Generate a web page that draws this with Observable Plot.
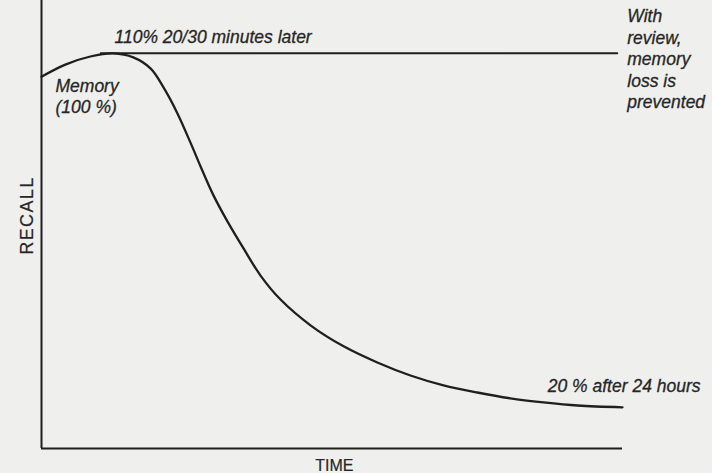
<!DOCTYPE html>
<html>
<head>
<meta charset="utf-8">
<script src="https://cdn.jsdelivr.net/npm/d3@7"></script>
<script src="https://cdn.jsdelivr.net/npm/@observablehq/plot@0.6"></script>
<style>
  html, body { margin: 0; padding: 0; background: #efefee; }
  #chart svg { display: block; background: #efefee; }
</style>
</head>
<body>
<div id="chart"></div>
<script>
// Forgetting curve (schematic units: time 0–100, recall 0–100)
const time   = [0, 4.1, 8.4, 12.4, 15.8, 18.8, 21.0, 23.4, 25.7, 27.4, 29.6, 32.0, 34.8, 37.7, 41.1, 46.3, 52.0, 57.8, 63.5, 69.2, 75.0, 80.7, 86.4, 92.3, 100];
const recall = [83.0, 85.7, 87.5, 88.2, 87.3, 84.8, 80.6, 74.8, 68.1, 62.9, 56.5, 50.7, 44.6, 38.6, 33.3, 27.5, 22.8, 19.2, 16.3, 14.1, 12.5, 11.2, 10.3, 9.6, 9.2];

// Review line (memory kept at peak)
const reviewTime   = [10.2, 99.1];
const reviewRecall = [88.2, 88.2];

// Texts
const peakLabel   = "110% 20/30 minutes later";
const startLabel  = "Memory\n(100 %)";
const reviewLabel = "With\nreview,\nmemory\nloss is\nprevented";
const endLabel    = "20 % after 24 hours";
const xLabel = "TIME";
const yLabel = "RECALL";

const curve = time.map((t, i) => ({time: t, recall: recall[i]}));
const review = reviewTime.map((t, i) => ({time: t, recall: reviewRecall[i]}));
const peakIdx = recall.indexOf(d3.max(recall));
const last = curve.length - 1;

const ink = "#1f1f1f";
const txt = "#262626";
const font = "'Liberation Sans', Arial, Helvetica, sans-serif";
const italicText = {fontSize: 17.5, fontStyle: "italic", fill: txt, stroke: txt, strokeWidth: 0.3};

const chart = Plot.plot({
  width: 712,
  height: 473,
  marginLeft: 41,
  marginRight: 90,
  marginTop: 0,
  marginBottom: 25,
  x: {domain: [0, 100], axis: null},
  y: {domain: [0, 100], axis: null},
  style: {fontFamily: font, background: "#efefee"},
  marks: [
    Plot.ruleX([0], {stroke: ink, strokeWidth: 2}),
    Plot.ruleY([0], {stroke: ink, strokeWidth: 2}),
    Plot.line(review, {x: "time", y: "recall", stroke: ink, strokeWidth: 2}),
    Plot.line(curve, {x: "time", y: "recall", stroke: ink, strokeWidth: 2.3, curve: "catmull-rom"}),
    Plot.text([curve[peakIdx]], {x: "time", y: "recall", text: () => peakLabel,
      textAnchor: "start", lineAnchor: "bottom", dx: 1, dy: -10, ...italicText}),
    Plot.text([curve[0]], {x: "time", y: "recall", text: () => startLabel,
      textAnchor: "start", lineAnchor: "bottom", lineHeight: 1.16, dx: 14, dy: 36, ...italicText}),
    Plot.text([review[1]], {x: "time", y: "recall", text: () => reviewLabel,
      textAnchor: "start", lineAnchor: "bottom", lineHeight: 1.22, dx: 10, dy: 54.5, ...italicText}),
    Plot.text([curve[last]], {x: "time", y: "recall", text: () => endLabel,
      textAnchor: "end", lineAnchor: "bottom", dx: 78, dy: -15, ...italicText}),
    Plot.text([xLabel], {x: 50.4, y: 0, text: d => d,
      textAnchor: "middle", lineAnchor: "bottom", dy: 22,
      fontSize: 16, fill: txt, stroke: txt, strokeWidth: 0.2}),
    Plot.text([yLabel], {x: 0, y: 52, text: d => d, rotate: -90,
      textAnchor: "middle", lineAnchor: "middle", dx: -14,
      fontSize: 18, fill: txt, stroke: txt, strokeWidth: 0.2})
  ]
});
d3.select(chart).selectAll("text")
  .filter(function() { return this.textContent === yLabel; })
  .style("letter-spacing", "1.4px");
document.getElementById("chart").appendChild(chart);
</script>
</body>
</html>
